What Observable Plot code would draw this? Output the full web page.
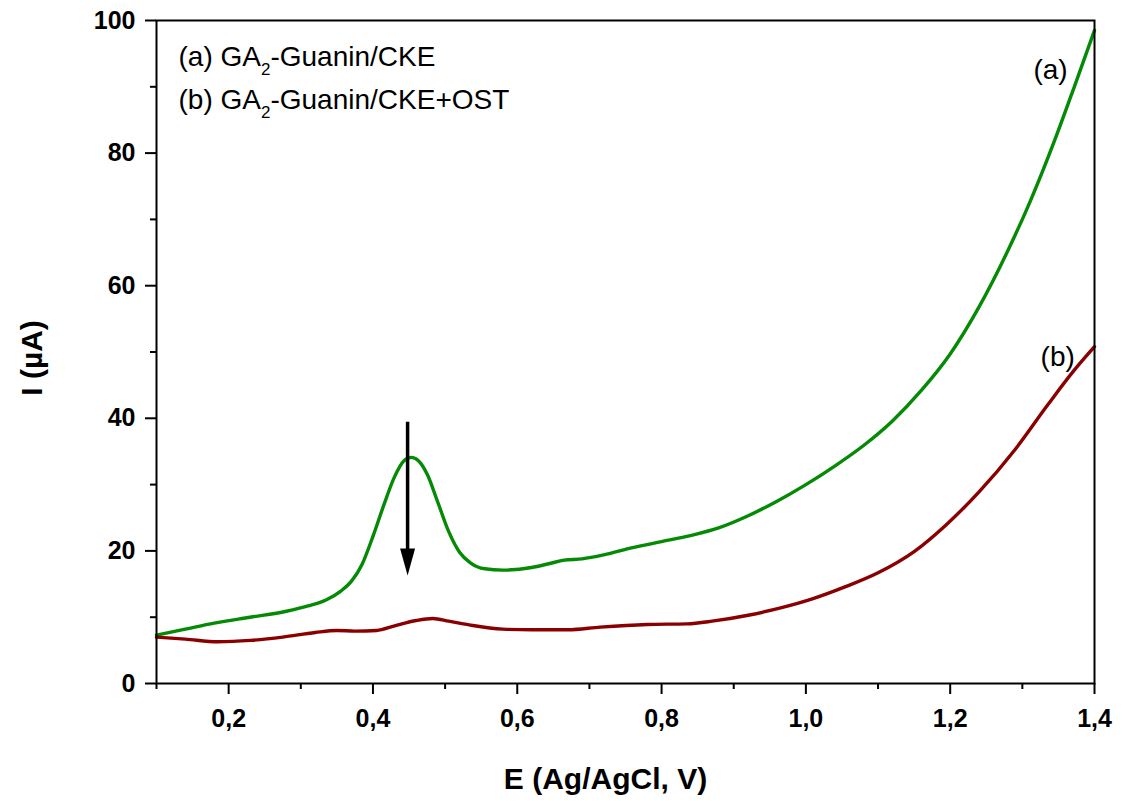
<!DOCTYPE html>
<html>
<head>
<meta charset="utf-8">
<script src="https://cdn.jsdelivr.net/npm/d3@7"></script>
<script src="https://cdn.jsdelivr.net/npm/@observablehq/plot@0.6"></script>
<style>
  html, body { margin: 0; padding: 0; background: #fff; }
  #chart svg { display: block; }
</style>
</head>
<body>
<div id="chart"></div>
<script>
// ---- Data ----
// Curve (a) GA2-Guanin/CKE  (green)
const potentialA = [0.10, 0.14, 0.18, 0.23, 0.28, 0.31, 0.335, 0.355, 0.37, 0.385, 0.40, 0.415, 0.43, 0.443, 0.453, 0.463, 0.475, 0.49, 0.505, 0.52, 0.535, 0.555, 0.58, 0.62, 0.645, 0.665, 0.69, 0.72, 0.76, 0.80, 0.84, 0.88, 0.92, 0.96, 1.00, 1.04, 1.08, 1.12, 1.16, 1.20, 1.24, 1.28, 1.31, 1.345, 1.372, 1.40];
const currentA   = [7.3, 8.2, 9.1, 10.0, 10.9, 11.7, 12.6, 13.9, 15.4, 18.0, 22.2, 26.9, 31.2, 33.6, 34.1, 33.6, 31.6, 27.3, 22.9, 19.8, 18.2, 17.3, 17.1, 17.5, 18.1, 18.6, 18.8, 19.4, 20.5, 21.4, 22.3, 23.5, 25.3, 27.5, 30.0, 32.8, 35.9, 39.6, 44.2, 49.7, 56.8, 65.3, 72.5, 82.0, 90.0, 98.5];

// Curve (b) GA2-Guanin/CKE+OST  (dark red)
const potentialB = [0.10, 0.14, 0.185, 0.23, 0.275, 0.32, 0.35, 0.375, 0.405, 0.43, 0.46, 0.483, 0.505, 0.535, 0.58, 0.62, 0.67, 0.715, 0.78, 0.835, 0.87, 0.92, 0.965, 1.01, 1.055, 1.10, 1.15, 1.195, 1.24, 1.29, 1.335, 1.37, 1.40];
const currentB   = [7.0, 6.7, 6.3, 6.5, 7.0, 7.7, 8.0, 7.9, 8.0, 8.7, 9.5, 9.8, 9.4, 8.8, 8.2, 8.1, 8.1, 8.5, 8.9, 9.0, 9.4, 10.3, 11.4, 12.8, 14.6, 16.7, 19.9, 24.0, 28.9, 35.3, 42.0, 47.0, 50.8];

// Ticks
const xMajorTicks = [0.2, 0.4, 0.6, 0.8, 1.0, 1.2, 1.4];
const xMinorTicks = [0.1, 0.3, 0.5, 0.7, 0.9, 1.1, 1.3];
const yMajorTicks = [0, 20, 40, 60, 80, 100];
const yMinorTicks = [10, 30, 50, 70, 90];

// Texts
const legendLines = ["(a) GA2-Guanin/CKE", "(b) GA2-Guanin/CKE+OST"];
const curveLabels = ["(a)", "(b)"];
const curveLabelE = [1.339, 1.349];
const curveLabelI = [92.5, 49.2];
const xTitle = "E (Ag/AgCl, V)";
const yTitle = "I (\u00B5A)";
const yTitleAt = 43.4; // vertical centre of the rotated y title, in axis units

// Arrow (peak decrease)
const arrowE = [0.448];
const arrowFromI = [39.4];
const arrowToI = [16.3];

// ---- Build ----
const dataA = potentialA.map((e, i) => ({E: e, I: currentA[i]}));
const dataB = potentialB.map((e, i) => ({E: e, I: currentB[i]}));
const labels = curveLabels.map((t, i) => ({t, E: curveLabelE[i], I: curveLabelI[i]}));
const arrows = arrowE.map((e, i) => ({E: e, from: arrowFromI[i], to: arrowToI[i]}));

const comma = d => d.toFixed(1).replace(".", ",");
const FONT = "'Liberation Sans', Arial, Helvetica, sans-serif";

// narrow filled arrow head with its tip at the anchor point
const arrowHead = {
  draw(context) {
    const w = 15, h = 27;
    context.moveTo(0, 0);
    context.lineTo(-w / 2, -h);
    context.lineTo(w / 2, -h);
    context.closePath();
  }
};

const chart = Plot.plot({
  width: 1122,
  height: 801,
  marginLeft: 156,
  marginRight: 28,
  marginTop: 20,
  marginBottom: 118,
  style: {fontFamily: FONT, background: "#fff", overflow: "visible", color: "#000"},
  x: {domain: [0.1, 1.4]},
  y: {domain: [0, 100]},
  marks: [
    Plot.axisX({ticks: xMajorTicks, tickSize: 11, tickPadding: 15, tickFormat: comma, fontSize: 25, fontWeight: "bold", strokeWidth: 2, label: null}),
    Plot.axisX({ticks: xMinorTicks, tickSize: 6, tickFormat: () => "", strokeWidth: 2, label: null}),
    Plot.axisY({ticks: yMajorTicks, tickSize: 11, tickPadding: 10, tickFormat: d => String(d), fontSize: 25, fontWeight: "bold", strokeWidth: 2, label: null}),
    Plot.axisY({ticks: yMinorTicks, tickSize: 6, tickFormat: () => "", strokeWidth: 2, label: null}),
    Plot.line(dataA, {x: "E", y: "I", stroke: "#058a05", strokeWidth: 3.4, curve: "monotone-x"}),
    Plot.line(dataB, {x: "E", y: "I", stroke: "#8a0000", strokeWidth: 3.4, curve: "monotone-x"}),
    Plot.ruleX(arrows, {x: "E", y1: "from", y2: d => d.to + 3, stroke: "#000", strokeWidth: 3.5}),
    Plot.dot(arrows, {x: "E", y: "to", symbol: arrowHead, fill: "#000", stroke: null}),
    Plot.text(labels, {x: "E", y: "I", text: "t", fontSize: 28, fill: "#000"}),
    Plot.text([legendLines[0]], {frameAnchor: "top-left", text: d => d, textAnchor: "start", lineAnchor: "bottom", dx: 22, dy: 45, fontSize: 28, fill: "#000", className: "legend-line"}),
    Plot.text([legendLines[1]], {frameAnchor: "top-left", text: d => d, textAnchor: "start", lineAnchor: "bottom", dx: 22, dy: 88, fontSize: 28, fill: "#000", className: "legend-line"}),
    Plot.text([xTitle], {frameAnchor: "bottom", text: d => d, lineAnchor: "bottom", dx: -20, dy: 105, fontSize: 30, fontWeight: "bold", fill: "#000"}),
    Plot.text([yTitle], {frameAnchor: "left", y: () => yTitleAt, text: d => d, rotate: -90, lineAnchor: "bottom", dx: -115, fontSize: 30, fontWeight: "bold", fill: "#000"}),
    Plot.frame({stroke: "#000", strokeWidth: 2})
  ]
});

document.getElementById("chart").appendChild(chart);

// subscript "2" in GA2
d3.select(chart).selectAll("g.legend-line text").each(function() {
  const el = d3.select(this);
  const s = this.textContent;
  const k = s.indexOf("GA2");
  if (k < 0) return;
  el.text(null);
  el.append("tspan").text(s.slice(0, k + 2));
  el.append("tspan").attr("dy", 9).attr("font-size", 17).text("2");
  el.append("tspan").attr("dy", -9).text(s.slice(k + 3));
});
</script>
</body>
</html>
